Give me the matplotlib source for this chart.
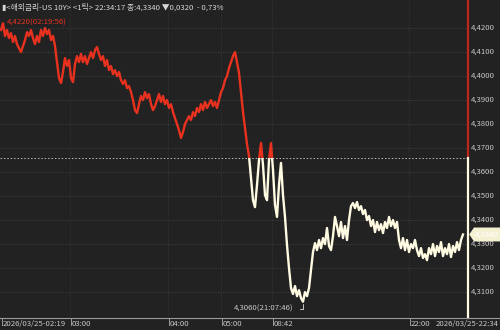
import matplotlib
matplotlib.use("Agg")
import matplotlib.pyplot as plt
from matplotlib.patches import Rectangle, Polygon
from matplotlib.lines import Line2D

plt.rcParams['font.family'] = ['Liberation Sans Narrow', 'Noto Sans CJK KR', 'DejaVu Sans']

# ---------------------------------------------------------------- data
yields = [
    4.4192, 4.4220, 4.4167, 4.4192, 4.4158, 4.4179, 4.4142, 4.4167, 4.4133, 4.4117,
    4.4100, 4.4125, 4.4150, 4.4183, 4.4167, 4.4192, 4.4158, 4.4133, 4.4167, 4.4142,
    4.4192, 4.4167, 4.4200, 4.4175, 4.4192, 4.4150, 4.4167, 4.4125, 4.4058, 4.3992,
    4.3971, 4.4017, 4.4075, 4.4042, 4.4067, 4.3992, 4.3975, 4.4050, 4.4083, 4.4058,
    4.4092, 4.4058, 4.4083, 4.4050, 4.4075, 4.4100, 4.4075, 4.4108, 4.4121, 4.4092,
    4.4067, 4.4083, 4.4042, 4.4067, 4.4025, 4.4042, 4.4008, 4.4025, 4.4000, 4.4017,
    4.3983, 4.3967, 4.3983, 4.3950, 4.3958, 4.3933, 4.3900, 4.3858, 4.3846, 4.3883,
    4.3917, 4.3900, 4.3933, 4.3908, 4.3925, 4.3883, 4.3858, 4.3875, 4.3900, 4.3925,
    4.3892, 4.3917, 4.3883, 4.3900, 4.3867, 4.3883, 4.3850, 4.3825, 4.3800, 4.3775,
    4.3742, 4.3767, 4.3800, 4.3817, 4.3833, 4.3817, 4.3850, 4.3833, 4.3867, 4.3850,
    4.3883, 4.3858, 4.3892, 4.3867, 4.3883, 4.3900, 4.3875, 4.3892, 4.3867, 4.3900,
    4.3933, 4.3950, 4.3983, 4.4000, 4.4033, 4.4058, 4.4083, 4.4100, 4.4058, 4.4013,
    4.3933, 4.3850, 4.3783, 4.3717, 4.3667, 4.3575, 4.3483, 4.3454, 4.3546, 4.3650,
    4.3721, 4.3629, 4.3504, 4.3483, 4.3650, 4.3721, 4.3608, 4.3463, 4.3413, 4.3546,
    4.3638, 4.3504, 4.3413, 4.3296, 4.3200, 4.3117, 4.3092, 4.3125, 4.3083, 4.3108,
    4.3075, 4.3060, 4.3100, 4.3083, 4.3117, 4.3192, 4.3267, 4.3304, 4.3275, 4.3317,
    4.3283, 4.3325, 4.3300, 4.3367, 4.3292, 4.3275, 4.3333, 4.3413, 4.3375, 4.3333,
    4.3392, 4.3325, 4.3375, 4.3317, 4.3400, 4.3458, 4.3471, 4.3450, 4.3475, 4.3442,
    4.3458, 4.3425, 4.3442, 4.3400, 4.3417, 4.3375, 4.3400, 4.3350, 4.3392, 4.3358,
    4.3383, 4.3346, 4.3392, 4.3367, 4.3413, 4.3375, 4.3400, 4.3367, 4.3392, 4.3317,
    4.3283, 4.3325, 4.3275, 4.3317, 4.3267, 4.3300, 4.3283, 4.3317, 4.3275, 4.3250,
    4.3283, 4.3242, 4.3258, 4.3233, 4.3283, 4.3258, 4.3300, 4.3250, 4.3292, 4.3267,
    4.3308, 4.3250, 4.3283, 4.3258, 4.3300, 4.3246, 4.3292, 4.3267, 4.3308, 4.3275,
    4.3317, 4.3340,
]
prev_close = 4.3660
last = 4.3340
hi_idx, hi_label = 1, '4,4220(02:19:56)'
lo_idx, lo_label = 151, '4,3060(21:07:46)'

tick_pos = [0, 34.5, 83.5, 110, 135.5, 204]
tick_labels = ['2026/03/25-02:19', '03:00', '04:00', '05:00', '08:42', '22:00']
end_label = '2026/03/25-22:34'
ytick_vals = [4.31, 4.32, 4.33, 4.34, 4.35, 4.36, 4.37, 4.38, 4.39, 4.40, 4.41, 4.42]

header = '▮<해외금리-US 10Y> <1틱> 22:34:17 종:4,3340 ▼0,0320  - 0,73%'

# ---------------------------------------------------------------- style
BG = '#222222'
RED = '#e8321f'
CREAM = '#fffbe2'
TXT = '#c8c8c8'
GRID = '#4a4a4a'
FS = 5.6

fig = plt.figure(figsize=(5, 3.3), dpi=100, facecolor=BG)
ax = fig.add_axes([0, 12 / 330, 468 / 500, 318 / 330])
ax.set_facecolor(BG)
x0, x1 = -0.5, 233.5
y0, y1 = 4.2992, 4.4317
ax.set_xlim(x0, x1)
ax.set_ylim(y0, y1)
for s in ax.spines.values():
    s.set_visible(False)
ax.set_xticks([])
ax.set_yticks([])

# grid
for v in ytick_vals:
    ax.axhline(v, color=GRID, lw=0.6, ls=(0, (1, 2)), zorder=1)
for p in tick_pos[1:]:
    ax.axvline(p, color='#3c3c3c', lw=0.6, ls=(0, (1, 2)), zorder=1)
ax.axhline(prev_close, color='#bbbbbb', lw=0.7, ls=(0, (1.5, 2)), zorder=2)

# line, red above previous close, cream below
idx = list(range(len(yields)))
up = Rectangle((x0, prev_close), x1 - x0, y1 - prev_close, transform=ax.transData)
dn = Rectangle((x0, y0), x1 - x0, prev_close - y0, transform=ax.transData)
l1, = ax.plot(idx, yields, color=RED, lw=1.7, zorder=3)
l1.set_clip_path(up)
l2, = ax.plot(idx, yields, color=CREAM, lw=1.7, zorder=3)
l2.set_clip_path(dn)

# right edge line
ax.plot([x1, x1], [prev_close, y1], color='#c0271a', lw=1.6, clip_on=False, zorder=4)
ax.plot([x1, x1], [y0, prev_close], color=CREAM, lw=1.6, clip_on=False, zorder=4)

# high / low labels
ax.annotate(hi_label, xy=(hi_idx, yields[hi_idx]), xytext=(hi_idx + 2, yields[hi_idx] + 0.0004),
            color=RED, fontsize=FS, va='center', ha='left', zorder=5)
ax.annotate(lo_label, xy=(lo_idx, yields[lo_idx]), xytext=(lo_idx - 4.5, yields[lo_idx] - 0.003),
            color=TXT, fontsize=FS, va='center', ha='right', zorder=5,
            arrowprops=dict(arrowstyle='-', color=TXT, lw=0.7,
                            connectionstyle='angle,angleA=0,angleB=90,rad=0'))

# right axis labels
for v in ytick_vals:
    ax.text(x1 + 1.5, v, ('%.4f' % v).replace('.', ','), color=TXT, fontsize=FS,
            va='center', ha='left', clip_on=False)

# last price tag
tag = Polygon([[x1 + 0.6, last], [x1 + 3, last + 0.0029], [x1 + 17, last + 0.0029],
               [x1 + 17, last - 0.0029], [x1 + 3, last - 0.0029]],
              closed=True, facecolor='#f4f0d2', edgecolor='none', clip_on=False, zorder=6)
ax.add_patch(tag)
ax.text(x1 + 3.5, last, ('%.4f' % last).replace('.', ','), color='#ffffff', fontsize=FS,
        va='center', ha='left', clip_on=False, zorder=7)

# bottom axis
fig.add_artist(Line2D([0, 1], [12 / 330, 12 / 330], color='#9a9a9a', lw=0.8))
for p, lab in zip(tick_pos, tick_labels):
    xf = (p - x0) / (x1 - x0) * 468 / 500
    fig.add_artist(Line2D([xf + 0.001, xf + 0.001], [12 / 330, 5 / 330], color='#9a9a9a', lw=0.7))
    fig.text(xf + 0.003, 6 / 330, lab, color=TXT, fontsize=FS, va='center', ha='left')
fig.text(0.998, 6 / 330, end_label, color=TXT, fontsize=FS, va='center', ha='right')

# header
fig.text(0.004, 1 - 7 / 330, header, color='#d8d8d8', fontsize=FS, va='center', ha='left')

fig.savefig('out.png', dpi=100, facecolor=BG)
